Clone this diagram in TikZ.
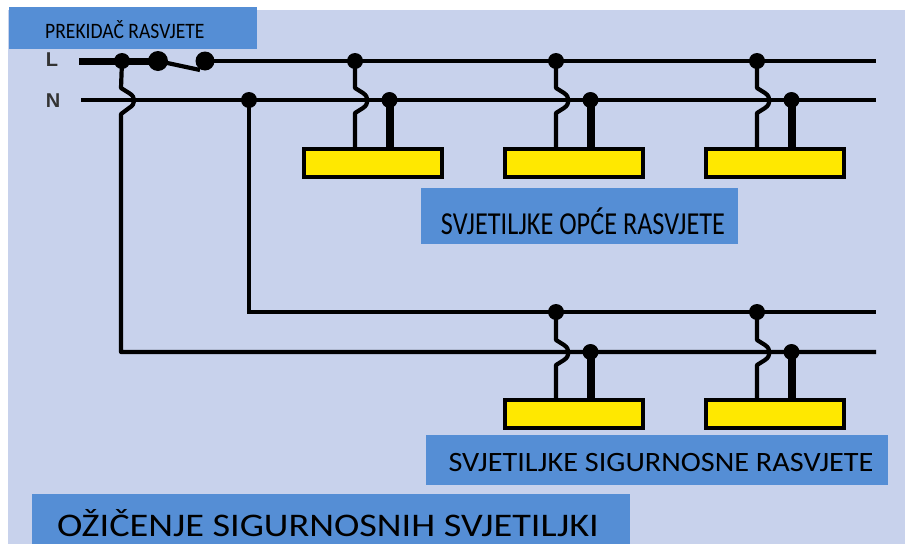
\documentclass[tikz,border=0pt]{standalone}
\usepackage{fontspec}
\setmainfont{Carlito}
\newfontfamily\termfont{Liberation Sans}
\definecolor{panel}{HTML}{C8D2EC}
\definecolor{banner}{HTML}{558ED5}
\definecolor{lamp}{HTML}{FFE800}
\tikzset{
  x=1pt,y=-1pt,
  wire/.style={draw=black,line width=3.6pt},
  hopwire/.style={draw=black,line width=4.2pt},
  thickwire/.style={draw=black,line width=8pt},
  lampbox/.style={draw=black,line width=3.8pt,fill=lamp,minimum width=138pt,minimum height=28pt,inner sep=0pt},
  banner box/.style={fill=banner,inner sep=0pt,text=black},
  dot/.style={circle,fill=black,inner sep=0pt,minimum size=#1},
  dot/.default=16pt,
  term/.style={font=\termfont\bfseries\fontsize{20}{20}\selectfont,text=black!80,inner sep=0pt},
}
\newcommand{\lampunit}[5]{%
  % #1 x of hop wire, #2 y of line one, #3 y of line two, #4 name, #5 y of lamp
  \node[dot] (#4a) at (#1,#2) {};
  \node[dot] (#4b) at (#1+34.5,#3) {};
  \node[lampbox] (#4l) at (#1+18,#5) {};
  \draw[hopwire,line join=round] (#4a.center) -- (#1,#3-12) -- (#1+8,#3-7) .. controls (#1+14,#3-3) and (#1+14,#3+4) .. (#1+8,#3+8) -- (#1,#3+13) -- (#1,#5-14);
  \draw[thickwire] (#4b.center) -- (#1+34.5,#5-14);
}
\begin{document}
\begin{tikzpicture}
\useasboundingbox (0,0) rectangle (905,544);
\fill[panel] (8,10) rectangle (905,544);
% banners
\node[banner box,minimum width=248pt,minimum height=42pt,anchor=north west] (top) at (9,7) {};
\node[anchor=west,inner sep=0pt,font=\fontsize{22}{22}\selectfont] (toptext) at (45,30) {\scalebox{0.89}[1]{PREKIDAČ RASVJETE}};
\node[banner box,minimum width=317pt,minimum height=56pt,anchor=north west] (gen) at (421,188) {};
\node[font=\fontsize{32}{32}\selectfont,inner sep=0pt] (gentext) at (583,221) {\scalebox{0.82}[1]{SVJETILJKE OPĆE RASVJETE}};
\node[banner box,minimum width=462pt,minimum height=50pt,anchor=north west] (saf) at (426,435) {};
\node[font=\fontsize{28}{28}\selectfont,inner sep=0pt] (saftext) at (661,463) {\scalebox{1.08}[1]{SVJETILJKE SIGURNOSNE RASVJETE}};
\node[banner box,minimum width=598pt,minimum height=50pt,anchor=north west] (main) at (32,494) {};
\node[font=\fontsize{33}{33}\selectfont,inner sep=0pt] (maintext) at (328,523) {\scalebox{1.16}[1]{OŽIČENJE SIGURNOSNIH SVJETILJKI}};
% terminals
\node[term] (L) at (52,60) {L};
\node[term] (N) at (53,101) {N};
\coordinate (Lstart) at (79,61);
\coordinate (Nstart) at (81,100);
\coordinate (Lend) at (876,61);
\coordinate (Nend) at (876,100);
\coordinate (Sone) at (876,312);
\coordinate (Stwo) at (876,352);
% switch
\node[dot=20pt] (sw1) at (158,61) {};
\node[dot=19pt] (sw2) at (205,61) {};
\node[dot] (t1) at (122,61) {};
\node[dot] (t2) at (249,100) {};
\draw[draw=black,line width=7pt] (Lstart) -- (sw1.center);
\draw[hopwire] (sw1.center) -- (200,70);
\draw[wire] (sw2.center) -- (Lend);
\draw[wire] (Nstart) -- (Nend);
% feeders
\draw[hopwire,line join=round] (t1.center) -- (121,88) -- (129,93) .. controls (136,97) and (136,104) .. (129,108) -- (121,114) -- (121,352) -- (Stwo);
\draw[hopwire] (t2.center) -- (249,312) -- (Sone);
% lamps
\lampunit{355}{61}{100}{a}{163}
\lampunit{556}{61}{100}{b}{163}
\lampunit{757}{61}{100}{c}{163}
\lampunit{556}{312}{352}{d}{414}
\lampunit{757}{312}{352}{e}{414}
\end{tikzpicture}
\end{document}
